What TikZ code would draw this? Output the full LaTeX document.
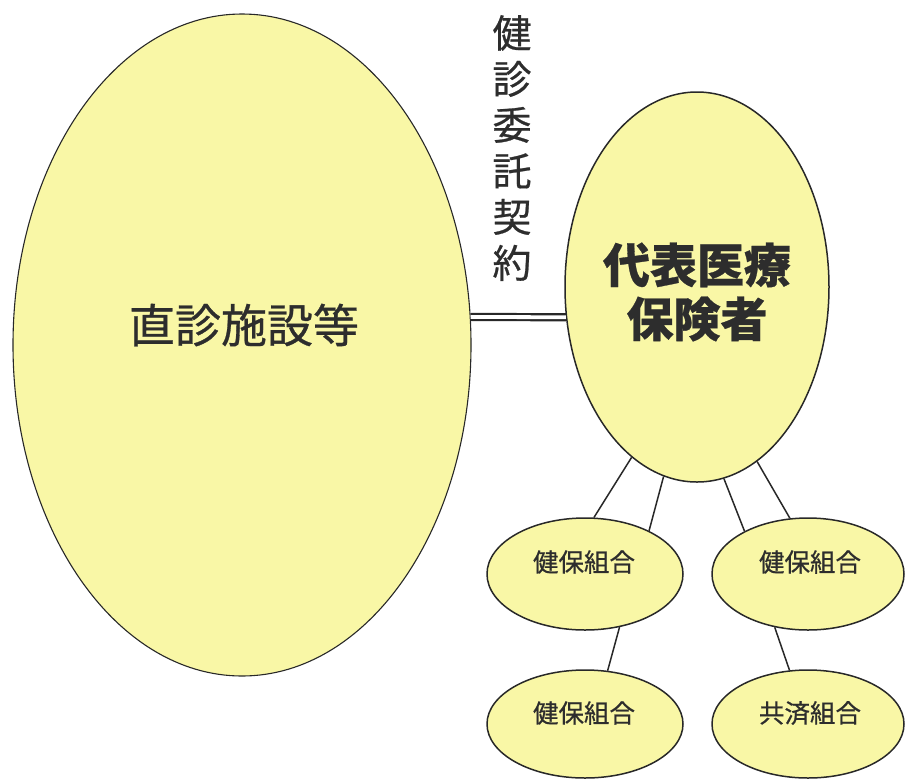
\documentclass[tikz,border=0pt]{standalone}
\usepackage{fontspec}
\setmainfont{Noto Sans CJK JP}[FakeBold=0.6]
\usetikzlibrary{shapes.geometric}
\definecolor{fillY}{RGB}{249,247,166}
\definecolor{lineK}{RGB}{40,40,40}
\definecolor{textK}{RGB}{45,45,45}
\tikzset{
  oval/.style={ellipse, draw=lineK, fill=fillY, line width=1.5pt, inner sep=0pt},
  lbl/.style={inner sep=0pt, text=textK, align=center},
  conn/.style={draw=lineK, line width=1.5pt},
}
\begin{document}
\begin{tikzpicture}[x=1pt,y=-1pt]
\useasboundingbox (0,0) rectangle (905,780);
\fill[white] (0,0) rectangle (905,780);
% ellipses
\node[oval, line width=1.1pt, minimum width=458pt, minimum height=662pt] (B) at (242,345) {};
\node[oval, minimum width=264pt, minimum height=390pt] (R) at (697,287) {};
\node[oval, minimum width=196pt, minimum height=112pt] (TL) at (585,574) {};
\node[oval, minimum width=192pt, minimum height=112pt] (TR) at (808,574) {};
\node[oval, minimum width=196pt, minimum height=108pt] (BL) at (585,724) {};
\node[oval, minimum width=192pt, minimum height=108pt] (BR) at (808,724) {};
% labels
\node[lbl, font=\fontsize{46}{52}\selectfont] (tB) at (244,325) {直診施設等};
\node[lbl, font=\fontsize{47}{54}\selectfont\bfseries] (tR) at (697,292) {代表医療\\保険者};
\node[lbl, font=\fontsize{39}{46}\selectfont] (tV) at (512,148) {健\\診\\委\\託\\契\\約};
\node[lbl, font=\fontsize{25.5}{30}\selectfont] (tTL) at (584,562) {健保組合};
\node[lbl, font=\fontsize{25.5}{30}\selectfont] (tTR) at (810,562) {健保組合};
\node[lbl, font=\fontsize{25.5}{30}\selectfont] (tBL) at (584,713) {健保組合};
\node[lbl, font=\fontsize{25.5}{30}\selectfont] (tBR) at (810,713) {共済組合};
% connectors
\draw[draw=lineK, line width=2.2pt, double=white, double distance=3.8pt] (B.7) -- (R.193);
\draw[conn] (R.249.4) -- (TL.81.7);
\draw[conn] (R.260) -- (TL.34.3);
\draw[conn] (R.278.9) -- (TR.146.9);
\draw[conn] (R.289.6) -- (TR.108.4);
\draw[conn] (TL.303) -- (BL.67.8);
\draw[conn] (TR.238.6) -- (BR.109.4);
\end{tikzpicture}
\end{document}
